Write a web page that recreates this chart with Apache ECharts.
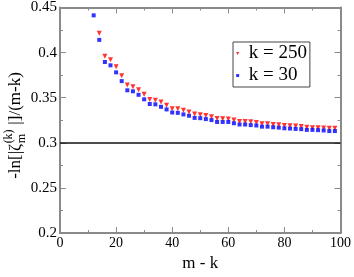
<!DOCTYPE html>
<html>
<head>
<meta charset="utf-8">
<script src="https://cdn.jsdelivr.net/npm/echarts@6/dist/echarts.min.js"></script>
<style>
  html, body { margin: 0; padding: 0; background: #fff; }
  #chart { width: 354px; height: 277px; }
</style>
</head>
<body>
<div id="chart"></div>
<script>
// ---- data ----
const mRed = [14,16,18,20,22,24,26,28,30,32,34,36,38,40,42,44,46,48,50,52,54,56,58,60,62,64,66,68,70,72,74,76,78,80,82,84,86,88,90,92,94,96,98];
const valRed = [0.4214,0.3959,0.3922,0.3844,0.3744,0.3642,0.3621,0.3587,0.3538,0.3480,0.3472,0.3451,0.3417,0.3378,0.3378,0.3360,0.3342,0.3318,0.3311,0.3304,0.3290,0.3269,0.3266,0.3263,0.3252,0.3237,0.3237,0.3234,0.3224,0.3210,0.3210,0.3203,0.3200,0.3192,0.3189,0.3185,0.3182,0.3172,0.3168,0.3168,0.3164,0.3161,0.3161];
const mBlue = [12,14,16,18,20,22,24,26,28,30,32,34,36,38,40,42,44,46,48,50,52,54,56,58,60,62,64,66,68,70,72,74,76,78,80,82,84,86,88,90,92,94,96,98];
const valBlue = [0.4413,0.4141,0.3896,0.3859,0.3781,0.3684,0.3582,0.3571,0.3532,0.3482,0.3430,0.3426,0.3399,0.3370,0.3336,0.3332,0.3315,0.3300,0.3276,0.3273,0.3263,0.3252,0.3231,0.3231,0.3231,0.3217,0.3203,0.3203,0.3196,0.3192,0.3179,0.3179,0.3172,0.3168,0.3161,0.3158,0.3154,0.3151,0.3143,0.3143,0.3140,0.3137,0.3130,0.3130];
const refLine = 0.302;
const seriesNames = ['k = 250', 'k = 30'];
const xTitle = 'm - k';
const yTitleParts = ['-ln[|\u03B6', '(k)', 'm', ' |]/(m-k)'];

// ---- layout ----
const SERIF = '"Liberation Serif", "Times New Roman", serif';
const FRAME = '#8a8a8a';
const chart = echarts.init(document.getElementById('chart'), null, { renderer: 'canvas' });

const ctx = document.createElement('canvas').getContext('2d');
function tw(t, size) { ctx.font = size + 'px ' + SERIF; return ctx.measureText(t).width; }
const F = 17, f = 12;
const w1 = tw(yTitleParts[0], F);
const ws = Math.max(tw(yTitleParts[1], f), tw(yTitleParts[2], f));
const w2 = tw(yTitleParts[3], F);
const total = w1 + 1 + ws + w2;
const x0 = -total / 2;
function txt(s, x, y, size) {
  return { type: 'text', x: x, y: y, silent: true,
    style: { text: s, font: size + 'px ' + SERIF, fill: '#000',
      textAlign: 'left', textVerticalAlign: 'middle', align: 'left', verticalAlign: 'middle' } };
}

function mkAxisCommon(showLabel, fs) {
  return {
    axisLine: { show: true, onZero: false, lineStyle: { color: FRAME, width: 2 } },
    axisTick: { show: true, inside: true, length: 6, lineStyle: { color: FRAME, width: 1 } },
    minorTick: { show: true, splitNumber: 2, length: 3, lineStyle: { color: FRAME, width: 1 } },
    splitLine: { show: false },
    axisLabel: { show: showLabel, color: '#000', fontFamily: SERIF, fontSize: fs, margin: 3 }
  };
}

const option = {
  animation: false,
  backgroundColor: '#fff',
  grid: { left: 60, top: 6, width: 281, height: 239, containLabel: false },
  xAxis: [
    Object.assign({ type: 'value', min: 0, max: 100, interval: 20, position: 'bottom',
      name: xTitle, nameLocation: 'middle', nameGap: 22,
      nameTextStyle: { fontFamily: SERIF, fontSize: 17, color: '#000' } }, mkAxisCommon(true, 14)),
    Object.assign({ type: 'value', min: 0, max: 100, interval: 20, position: 'top' }, mkAxisCommon(false, 14))
  ],
  yAxis: [
    Object.assign({ type: 'value', min: 0.2, max: 0.45, interval: 0.05, position: 'left',
      }, mkAxisCommon(true, 15)),
    Object.assign({ type: 'value', min: 0.2, max: 0.45, interval: 0.05, position: 'right' }, mkAxisCommon(false, 15))
  ],
  legend: {
    orient: 'vertical', left: 233, top: 42,
    padding: [2, 3, 2, 3], itemGap: 3, itemWidth: 12, itemHeight: 3,
    borderColor: '#444', borderWidth: 1, backgroundColor: '#fff',
    textStyle: { fontFamily: SERIF, fontSize: 19, color: '#000' },
    selectedMode: false,
    data: [
      { name: seriesNames[0], icon: 'path://M0,0 L10,0 L5,9 Z' },
      { name: seriesNames[1], icon: 'path://M0,0 L10,0 L10,10 L0,10 Z' }
    ]
  },
  series: [
    {
      name: seriesNames[0], type: 'scatter', symbol: 'triangle', symbolRotate: 180, symbolSize: [5, 5],
      itemStyle: { color: '#ff0000' },
      data: mRed.map((m, i) => [m, valRed[i]])
    },
    {
      name: seriesNames[1], type: 'scatter', symbol: 'rect', symbolSize: 4,
      itemStyle: { color: '#0000ff' },
      data: mBlue.map((m, i) => [m, valBlue[i]]),
      markLine: {
        silent: true, symbol: ['none', 'none'], animation: false,
        label: { show: false },
        lineStyle: { color: '#111', width: 1.5, type: 'solid' },
        data: [{ yAxis: refLine }]
      }
    }
  ],
  graphic: [
    { type: 'group', x: 16, y: 125.5, rotation: Math.PI / 2, silent: true,
      children: [
        txt(yTitleParts[0], x0, 0, F),
        txt(yTitleParts[1], x0 + w1 + 0.5, -7, f),
        txt(yTitleParts[2], x0 + w1 + 0.5, 6, f),
        txt(yTitleParts[3], x0 + w1 + 1 + ws, 0, F)
      ] }
  ]
};
chart.setOption(option);
</script>
</body>
</html>
